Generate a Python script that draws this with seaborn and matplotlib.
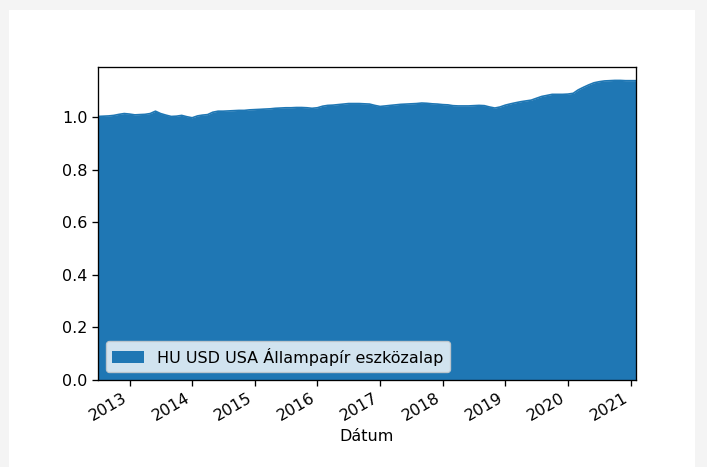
import pandas as pd
import seaborn as sns
import matplotlib.pyplot as plt
import matplotlib.dates as mdates
from matplotlib.patches import Rectangle

# Monthly fund value, starting July 2012
start_month = '2012-07-01'
fund_name = 'HU USD USA Állampapír eszközalap'
x_label = 'Dátum'
values = [
    1.002, 1.003, 1.004, 1.006, 1.010, 1.013,                              # 2012 H2
    1.011, 1.008, 1.009, 1.010, 1.013, 1.022, 1.013, 1.007, 1.002, 1.003, 1.006, 1.001,  # 2013
    0.997, 1.004, 1.007, 1.009, 1.018, 1.022, 1.022, 1.023, 1.024, 1.025, 1.025, 1.027,  # 2014
    1.028, 1.029, 1.030, 1.031, 1.033, 1.034, 1.035, 1.035, 1.036, 1.036, 1.035, 1.033,  # 2015
    1.035, 1.041, 1.044, 1.045, 1.047, 1.049, 1.051, 1.051, 1.051, 1.050, 1.049, 1.044,  # 2016
    1.040, 1.042, 1.044, 1.046, 1.048, 1.049, 1.050, 1.051, 1.053, 1.052, 1.050, 1.049,  # 2017
    1.047, 1.046, 1.043, 1.042, 1.042, 1.042, 1.043, 1.044, 1.043, 1.038, 1.034, 1.038,  # 2018
    1.045, 1.050, 1.054, 1.058, 1.061, 1.064, 1.071, 1.078, 1.082, 1.086, 1.086, 1.086,  # 2019
    1.087, 1.090, 1.103, 1.113, 1.122, 1.130, 1.134, 1.137, 1.138, 1.139, 1.139, 1.138,  # 2020
    1.138, 1.138,                                                          # 2021
]

df = pd.DataFrame({
    x_label: pd.date_range(start_month, periods=len(values), freq='MS'),
    fund_name: values,
})

blue = '#1f77b4'
plt.rcParams['font.size'] = 11.5
plt.rcParams['axes.linewidth'] = 0.95
plt.rcParams['xtick.major.size'] = 4
plt.rcParams['ytick.major.size'] = 4
plt.rcParams['xtick.major.width'] = 0.95
plt.rcParams['ytick.major.width'] = 0.95

fig = plt.figure(figsize=(7.07, 4.67), dpi=100, facecolor='#f4f4f4')
# white notebook output panel
fig.patches.append(Rectangle((9 / 707, 0), 686 / 707, 457 / 467,
                             transform=fig.transFigure, facecolor='white',
                             edgecolor='none', zorder=-1))
ax = fig.add_axes([98 / 707, 1 - 380 / 467, 538 / 707, 313 / 467])

sns.lineplot(data=df, x=x_label, y=fund_name, color=blue, linewidth=1.2, ax=ax)
area = ax.fill_between(df[x_label], df[fund_name], color=blue, linewidth=0, label=fund_name)

ax.set_xlim(df[x_label].iloc[0], df[x_label].iloc[-1])
ax.set_ylim(0, 1.19)
ax.set_ylabel('')
ax.set_xlabel(x_label)
ax.xaxis.set_major_locator(mdates.YearLocator())
ax.xaxis.set_major_formatter(mdates.DateFormatter('%Y'))
for lbl in ax.get_xticklabels():
    lbl.set_rotation(30)
    lbl.set_ha('right')

ax.legend(handles=[area], loc='lower left')

fig.savefig('out.png', dpi=100, facecolor=fig.get_facecolor())
